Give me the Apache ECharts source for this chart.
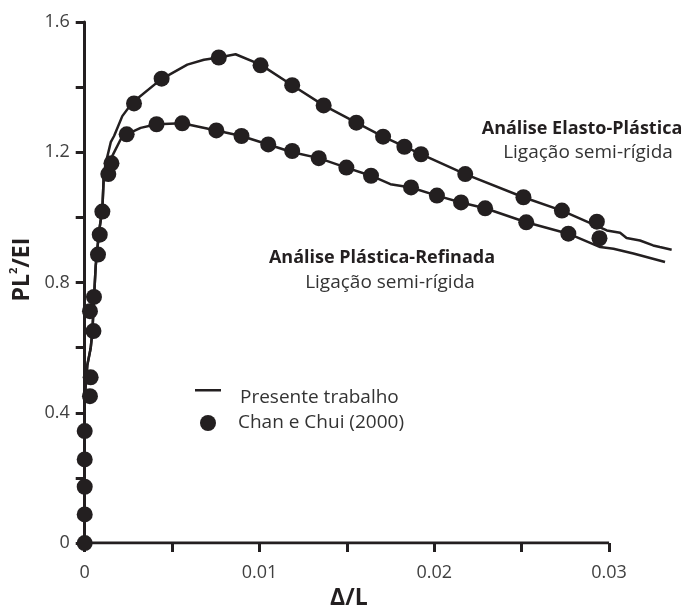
<!DOCTYPE html>
<html>
<head>
<meta charset="utf-8">
<script src="https://cdn.jsdelivr.net/npm/echarts@6/dist/echarts.min.js"></script>
<style>
html, body { margin: 0; padding: 0; background: #fff; }
#chart { width: 687px; height: 615px; }
</style>
</head>
<body>
<div id="chart"></div>
<script>
// Presente trabalho: trecho comum [Δ/L, PL²/EI]
var inicioLinha = [
	[0, 0], [0, 0.446], [0.00015, 0.547], [0.00034, 0.598], [0.00044, 0.650],
	[0.00053, 0.751], [0.00063, 0.852], [0.00082, 0.956], [0.00101, 1.026], [0.0011, 1.139]
];
// Análise Elasto-Plástica
var elastoLinha = [
	[0.00126, 1.179], [0.00149, 1.231], [0.00168, 1.250], [0.00215, 1.311], [0.00272, 1.352],
	[0.00434, 1.423], [0.00587, 1.469], [0.00682, 1.484], [0.00767, 1.491], [0.00863, 1.501],
	[0.01006, 1.469], [0.01187, 1.406], [0.01367, 1.344], [0.01554, 1.291], [0.01707, 1.248],
	[0.01924, 1.194], [0.02177, 1.133], [0.0251, 1.062], [0.0273, 1.021], [0.02987, 0.960],
	[0.03063, 0.953], [0.0310, 0.937], [0.03177, 0.929], [0.03252, 0.914], [0.0329, 0.909],
	[0.03358, 0.901]
];
// Análise Plástica-Refinada
var refinadaLinha = [
	[0.00158, 1.189], [0.00206, 1.240], [0.0024, 1.255], [0.0032, 1.275], [0.00411, 1.286],
	[0.00558, 1.289], [0.00753, 1.267], [0.00897, 1.250], [0.0105, 1.224], [0.01183, 1.201],
	[0.01339, 1.182], [0.01497, 1.153], [0.01638, 1.128], [0.01749, 1.102], [0.01867, 1.092],
	[0.02015, 1.067], [0.02153, 1.046], [0.02291, 1.028], [0.02526, 0.985], [0.02767, 0.950],
	[0.02949, 0.909], [0.03025, 0.904], [0.03139, 0.889], [0.0332, 0.863]
];

// Chan e Chui (2000)
var inicioPontos = [
	[0, 0], [0, 0.088], [0, 0.173], [0, 0.257], [0, 0.344], [0.0003, 0.451], [0.00034, 0.509],
	[0.0005, 0.651], [0.0003, 0.712], [0.00053, 0.756], [0.00076, 0.886], [0.00086, 0.947],
	[0.00101, 1.018], [0.00135, 1.133], [0.00153, 1.166]
];
var elastoPontos = [
	[0.00282, 1.350], [0.0044, 1.426], [0.00767, 1.491], [0.01006, 1.467], [0.01187, 1.406],
	[0.01367, 1.344], [0.01554, 1.291], [0.01707, 1.248], [0.01829, 1.217], [0.01924, 1.194],
	[0.02177, 1.133], [0.0251, 1.062], [0.0273, 1.021], [0.0293, 0.987]
];
var refinadaPontos = [
	[0.0024, 1.255], [0.00411, 1.286], [0.00558, 1.289], [0.00753, 1.267], [0.00897, 1.250],
	[0.0105, 1.224], [0.01187, 1.204], [0.01339, 1.182], [0.01497, 1.153], [0.01638, 1.128],
	[0.01867, 1.092], [0.02015, 1.067], [0.02153, 1.046], [0.02291, 1.028], [0.02526, 0.985],
	[0.02767, 0.950], [0.02945, 0.936]
];

// eixos
var xTicks = [0, 0.005, 0.01, 0.015, 0.02, 0.025, 0.03];
var xLabels = [0, 0.01, 0.02, 0.03];
var yLabels = [0, 0.4, 0.8, 1.2, 1.6];

var preto = '#231f20';
var fonte = '"Open Sans", Lato, sans-serif';

var myChart = echarts.init(document.getElementById('chart'));

function linha(dados) {
	return {
		name: 'Presente trabalho',
		type: 'line',
		data: dados,
		symbol: 'none',
		clip: false,
		lineStyle: { color: preto, width: 2.5 },
		z: 3
	};
}
function pontos(dados) {
	return {
		name: 'Chan e Chui (2000)',
		type: 'scatter',
		data: dados,
		symbol: 'circle',
		symbolSize: 16,
		clip: false,
		itemStyle: { color: preto, opacity: 1 },
		z: 4
	};
}

var option = {
	animation: false,
	backgroundColor: '#fff',
	textStyle: { fontFamily: fonte },
	grid: { left: 84, right: 8, top: 22, bottom: 69 },
	xAxis: {
		type: 'value',
		min: 0,
		max: 0.034,
		axisLine: { show: false },
		splitLine: { show: false },
		axisTick: {
			show: true,
			customValues: xTicks,
			length: 9,
			lineStyle: { color: preto, width: 3 }
		},
		axisLabel: {
			customValues: xLabels,
			margin: 21,
			color: '#404040',
			fontSize: 18,
			fontFamily: fonte,
			formatter: function(v) { return v === 0 ? '0' : v.toFixed(2); }
		},
		name: 'Δ/L',
		nameLocation: 'middle',
		nameGap: 40,
		nameTextStyle: {
			color: preto,
			fontSize: 23,
			fontWeight: 'bold',
			fontFamily: fonte,
			padding: [0, 66, 0, 0]
		}
	},
	yAxis: {
		type: 'value',
		min: 0,
		max: 1.6,
		interval: 0.2,
		splitLine: { show: false },
		axisLine: { show: true, lineStyle: { color: preto, width: 3 } },
		axisTick: { show: true, length: 9, lineStyle: { color: preto, width: 3 } },
		axisLabel: {
			customValues: yLabels,
			margin: 15,
			color: '#404040',
			fontSize: 18,
			fontFamily: fonte,
			formatter: function(v) { return v === 0 ? '0' : v.toFixed(1); }
		},
		name: '{a|PL}{b|2}{a|/EI}',
		nameLocation: 'middle',
		nameGap: 46,
		nameRotate: 90,
		nameTextStyle: {
			padding: [0, 0, 0, 26],
			rich: {
				a: { fontSize: 23, fontWeight: 'bold', color: preto, fontFamily: fonte, lineHeight: 28 },
				b: { fontSize: 11, fontWeight: 'bold', color: preto, fontFamily: fonte, verticalAlign: 'top', lineHeight: 28 }
			}
		}
	},
	legend: [{
		// traço no alto da caixa do ícone, acima do meio do texto
		data: [{ name: 'Presente trabalho', icon: 'path://M0,0H26V2.5H0Z M0,18H0.01V17.99H0Z' }],
		left: 195,
		top: 387,
		padding: 0,
		itemWidth: 26,
		itemHeight: 18,
		itemStyle: { color: preto, opacity: 1 },
		textStyle: { fontSize: 19, color: '#333', lineHeight: 22, padding: [0, 0, 0, 14], fontFamily: fonte }
	}, {
		data: [{ name: 'Chan e Chui (2000)', icon: 'circle' }],
		left: 200,
		top: 412,
		padding: 0,
		itemWidth: 20,
		itemHeight: 16,
		itemStyle: { color: preto, opacity: 1 },
		textStyle: { fontSize: 19, color: '#333', lineHeight: 22, padding: [0, 0, 0, 15], fontFamily: fonte }
	}],
	graphic: [
		{ type: 'text', x: 582, y: 129, style: { text: 'Análise Elasto-Plástica', textAlign: 'center', textVerticalAlign: 'middle', font: 'bold 18px ' + fonte, fill: preto } },
		{ type: 'text', x: 588, y: 153, style: { text: 'Ligação semi-rígida', textAlign: 'center', textVerticalAlign: 'middle', font: '19px ' + fonte, fill: '#333' } },
		{ type: 'text', x: 382, y: 258, style: { text: 'Análise Plástica-Refinada', textAlign: 'center', textVerticalAlign: 'middle', font: 'bold 18px ' + fonte, fill: preto } },
		{ type: 'text', x: 390, y: 283, style: { text: 'Ligação semi-rígida', textAlign: 'center', textVerticalAlign: 'middle', font: '19px ' + fonte, fill: '#333' } }
	],
	series: [
		// linha do eixo x, que termina em 0.03
		{
			name: 'eixo',
			type: 'line',
			data: [[0, 0], [0.03, 0]],
			symbol: 'none',
			silent: true,
			lineStyle: { color: preto, width: 3 },
			z: 2
		},
		linha(inicioLinha.concat(elastoLinha)),
		linha(inicioLinha.concat(refinadaLinha)),
		pontos(inicioPontos),
		pontos(elastoPontos),
		pontos(refinadaPontos)
	]
};

myChart.setOption(option);
</script>
</body>
</html>
